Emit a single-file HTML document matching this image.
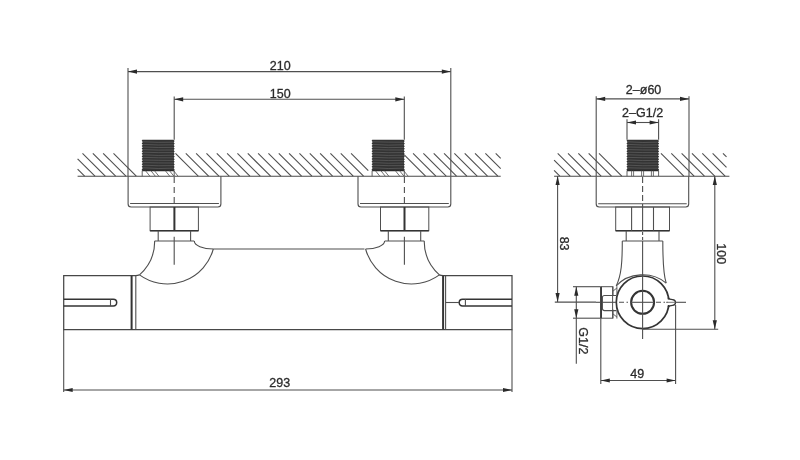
<!DOCTYPE html>
<html><head><meta charset="utf-8"><style>
html,body{margin:0;padding:0;background:#fff;}
svg{display:block;will-change:transform;}
text{font-family:"Liberation Sans",sans-serif;fill:#2b2b2b;stroke:#2b2b2b;stroke-width:0.3px;}
</style></head><body>
<svg width="800" height="460" viewBox="0 0 800 460">
<rect width="800" height="460" fill="#fff"/>
<line x1="77.60" y1="169.16" x2="84.64" y2="176.20" stroke="#4f4f4f" stroke-width="1.1" />
<line x1="77.60" y1="158.83" x2="94.97" y2="176.20" stroke="#4f4f4f" stroke-width="1.1" />
<line x1="82.50" y1="153.40" x2="105.30" y2="176.20" stroke="#4f4f4f" stroke-width="1.1" />
<line x1="92.83" y1="153.40" x2="115.63" y2="176.20" stroke="#4f4f4f" stroke-width="1.1" />
<line x1="103.16" y1="153.40" x2="125.96" y2="176.20" stroke="#4f4f4f" stroke-width="1.1" />
<line x1="113.49" y1="153.40" x2="136.29" y2="176.20" stroke="#4f4f4f" stroke-width="1.1" />
<line x1="175.47" y1="153.40" x2="198.27" y2="176.20" stroke="#4f4f4f" stroke-width="1.1" />
<line x1="185.80" y1="153.40" x2="208.60" y2="176.20" stroke="#4f4f4f" stroke-width="1.1" />
<line x1="196.13" y1="153.40" x2="218.93" y2="176.20" stroke="#4f4f4f" stroke-width="1.1" />
<line x1="206.46" y1="153.40" x2="229.26" y2="176.20" stroke="#4f4f4f" stroke-width="1.1" />
<line x1="216.79" y1="153.40" x2="239.59" y2="176.20" stroke="#4f4f4f" stroke-width="1.1" />
<line x1="227.12" y1="153.40" x2="249.92" y2="176.20" stroke="#4f4f4f" stroke-width="1.1" />
<line x1="237.45" y1="153.40" x2="260.25" y2="176.20" stroke="#4f4f4f" stroke-width="1.1" />
<line x1="247.78" y1="153.40" x2="270.58" y2="176.20" stroke="#4f4f4f" stroke-width="1.1" />
<line x1="258.11" y1="153.40" x2="280.91" y2="176.20" stroke="#4f4f4f" stroke-width="1.1" />
<line x1="268.44" y1="153.40" x2="291.24" y2="176.20" stroke="#4f4f4f" stroke-width="1.1" />
<line x1="278.77" y1="153.40" x2="301.57" y2="176.20" stroke="#4f4f4f" stroke-width="1.1" />
<line x1="289.10" y1="153.40" x2="311.90" y2="176.20" stroke="#4f4f4f" stroke-width="1.1" />
<line x1="299.43" y1="153.40" x2="322.23" y2="176.20" stroke="#4f4f4f" stroke-width="1.1" />
<line x1="309.76" y1="153.40" x2="332.56" y2="176.20" stroke="#4f4f4f" stroke-width="1.1" />
<line x1="320.09" y1="153.40" x2="342.89" y2="176.20" stroke="#4f4f4f" stroke-width="1.1" />
<line x1="330.42" y1="153.40" x2="353.22" y2="176.20" stroke="#4f4f4f" stroke-width="1.1" />
<line x1="340.75" y1="153.40" x2="363.55" y2="176.20" stroke="#4f4f4f" stroke-width="1.1" />
<line x1="351.08" y1="153.40" x2="368.28" y2="170.60" stroke="#4f4f4f" stroke-width="1.1" />
<line x1="404.30" y1="154.97" x2="425.53" y2="176.20" stroke="#4f4f4f" stroke-width="1.1" />
<line x1="413.06" y1="153.40" x2="435.86" y2="176.20" stroke="#4f4f4f" stroke-width="1.1" />
<line x1="423.39" y1="153.40" x2="446.19" y2="176.20" stroke="#4f4f4f" stroke-width="1.1" />
<line x1="433.72" y1="153.40" x2="456.52" y2="176.20" stroke="#4f4f4f" stroke-width="1.1" />
<line x1="444.05" y1="153.40" x2="466.85" y2="176.20" stroke="#4f4f4f" stroke-width="1.1" />
<line x1="454.38" y1="153.40" x2="477.18" y2="176.20" stroke="#4f4f4f" stroke-width="1.1" />
<line x1="464.71" y1="153.40" x2="487.51" y2="176.20" stroke="#4f4f4f" stroke-width="1.1" />
<line x1="475.04" y1="153.40" x2="497.84" y2="176.20" stroke="#4f4f4f" stroke-width="1.1" />
<line x1="485.37" y1="153.40" x2="500.70" y2="168.73" stroke="#4f4f4f" stroke-width="1.1" />
<line x1="495.70" y1="153.40" x2="500.70" y2="158.40" stroke="#4f4f4f" stroke-width="1.1" />
<line x1="77.60" y1="176.20" x2="500.70" y2="176.20" stroke="#4a4a4a" stroke-width="1.1" />
<line x1="554.10" y1="170.48" x2="559.82" y2="176.20" stroke="#4f4f4f" stroke-width="1.1" />
<line x1="554.10" y1="160.15" x2="570.15" y2="176.20" stroke="#4f4f4f" stroke-width="1.1" />
<line x1="557.68" y1="153.40" x2="580.48" y2="176.20" stroke="#4f4f4f" stroke-width="1.1" />
<line x1="568.01" y1="153.40" x2="590.81" y2="176.20" stroke="#4f4f4f" stroke-width="1.1" />
<line x1="578.34" y1="153.40" x2="601.14" y2="176.20" stroke="#4f4f4f" stroke-width="1.1" />
<line x1="588.67" y1="153.40" x2="611.47" y2="176.20" stroke="#4f4f4f" stroke-width="1.1" />
<line x1="599.00" y1="153.40" x2="621.80" y2="176.20" stroke="#4f4f4f" stroke-width="1.1" />
<line x1="660.98" y1="153.40" x2="683.78" y2="176.20" stroke="#4f4f4f" stroke-width="1.1" />
<line x1="671.31" y1="153.40" x2="694.11" y2="176.20" stroke="#4f4f4f" stroke-width="1.1" />
<line x1="681.64" y1="153.40" x2="704.44" y2="176.20" stroke="#4f4f4f" stroke-width="1.1" />
<line x1="691.97" y1="153.40" x2="714.77" y2="176.20" stroke="#4f4f4f" stroke-width="1.1" />
<line x1="702.30" y1="153.40" x2="725.10" y2="176.20" stroke="#4f4f4f" stroke-width="1.1" />
<line x1="712.63" y1="153.40" x2="726.50" y2="167.27" stroke="#4f4f4f" stroke-width="1.1" />
<line x1="722.96" y1="153.40" x2="726.50" y2="156.94" stroke="#4f4f4f" stroke-width="1.1" />
<line x1="554.10" y1="176.20" x2="729.40" y2="176.20" stroke="#4a4a4a" stroke-width="1.1" />
<path d="M143.00,139.80 L173.40,139.80 L174.70,141.00 L173.60,142.30 L174.70,143.60 L173.60,144.90 L174.70,146.20 L173.60,147.50 L174.70,148.80 L173.60,150.10 L174.70,151.40 L173.60,152.70 L174.70,154.00 L173.60,155.30 L174.70,156.60 L173.60,157.90 L174.70,159.20 L173.60,160.50 L174.70,161.80 L173.60,163.10 L174.70,164.40 L173.60,165.70 L174.70,167.00 L173.60,168.30 L174.70,169.60 L173.60,170.90 L174.20,170.60 L142.20,170.60 L141.70,169.40 L142.80,168.10 L141.70,166.80 L142.80,165.50 L141.70,164.20 L142.80,162.90 L141.70,161.60 L142.80,160.30 L141.70,159.00 L142.80,157.70 L141.70,156.40 L142.80,155.10 L141.70,153.80 L142.80,152.50 L141.70,151.20 L142.80,149.90 L141.70,148.60 L142.80,147.30 L141.70,146.00 L142.80,144.70 L141.70,143.40 L142.80,142.10 L141.70,140.80 L142.80,139.50Z" fill="#333"/>
<path d="M143.20,141.80 Q158.20,142.68 173.20,142.20" stroke="#616161" stroke-width="0.7" fill="none"/>
<path d="M143.20,144.40 Q158.20,145.38 173.20,144.80" stroke="#616161" stroke-width="0.7" fill="none"/>
<path d="M143.20,147.00 Q158.20,147.79 173.20,147.40" stroke="#616161" stroke-width="0.7" fill="none"/>
<path d="M143.20,149.60 Q158.20,150.39 173.20,150.00" stroke="#616161" stroke-width="0.7" fill="none"/>
<path d="M143.20,152.20 Q158.20,152.85 173.20,152.60" stroke="#616161" stroke-width="0.7" fill="none"/>
<path d="M143.20,154.80 Q158.20,155.93 173.20,155.20" stroke="#616161" stroke-width="0.7" fill="none"/>
<path d="M143.20,157.40 Q158.20,157.96 173.20,157.80" stroke="#616161" stroke-width="0.7" fill="none"/>
<path d="M143.20,160.00 Q158.20,160.40 173.20,160.40" stroke="#616161" stroke-width="0.7" fill="none"/>
<path d="M143.20,162.60 Q158.20,163.07 173.20,163.00" stroke="#616161" stroke-width="0.7" fill="none"/>
<path d="M143.20,165.20 Q158.20,166.06 173.20,165.60" stroke="#616161" stroke-width="0.7" fill="none"/>
<path d="M143.20,167.80 Q158.20,168.97 173.20,168.20" stroke="#616161" stroke-width="0.7" fill="none"/>
<line x1="142.20" y1="170.60" x2="174.20" y2="170.60" stroke="#2a2a2a" stroke-width="1.3" />
<line x1="142.20" y1="170.60" x2="142.20" y2="176.20" stroke="#4f4f4f" stroke-width="0.9" />
<line x1="174.20" y1="170.60" x2="174.20" y2="176.20" stroke="#4f4f4f" stroke-width="0.9" />
<line x1="145.40" y1="170.60" x2="149.90" y2="176.20" stroke="#4f4f4f" stroke-width="0.8" />
<line x1="150.84" y1="170.60" x2="155.34" y2="176.20" stroke="#4f4f4f" stroke-width="0.8" />
<line x1="154.36" y1="170.60" x2="158.86" y2="176.20" stroke="#4f4f4f" stroke-width="0.8" />
<line x1="165.24" y1="170.60" x2="169.74" y2="176.20" stroke="#4f4f4f" stroke-width="0.8" />
<line x1="169.40" y1="170.60" x2="173.90" y2="176.20" stroke="#4f4f4f" stroke-width="0.8" />
<line x1="173.56" y1="170.60" x2="178.06" y2="176.20" stroke="#4f4f4f" stroke-width="0.8" />
<path d="M372.90,139.80 L403.50,139.80 L404.80,141.00 L403.70,142.30 L404.80,143.60 L403.70,144.90 L404.80,146.20 L403.70,147.50 L404.80,148.80 L403.70,150.10 L404.80,151.40 L403.70,152.70 L404.80,154.00 L403.70,155.30 L404.80,156.60 L403.70,157.90 L404.80,159.20 L403.70,160.50 L404.80,161.80 L403.70,163.10 L404.80,164.40 L403.70,165.70 L404.80,167.00 L403.70,168.30 L404.80,169.60 L403.70,170.90 L404.30,170.60 L372.10,170.60 L371.60,169.40 L372.70,168.10 L371.60,166.80 L372.70,165.50 L371.60,164.20 L372.70,162.90 L371.60,161.60 L372.70,160.30 L371.60,159.00 L372.70,157.70 L371.60,156.40 L372.70,155.10 L371.60,153.80 L372.70,152.50 L371.60,151.20 L372.70,149.90 L371.60,148.60 L372.70,147.30 L371.60,146.00 L372.70,144.70 L371.60,143.40 L372.70,142.10 L371.60,140.80 L372.70,139.50Z" fill="#333"/>
<path d="M373.10,141.80 Q388.20,142.22 403.30,142.20" stroke="#616161" stroke-width="0.7" fill="none"/>
<path d="M373.10,144.40 Q388.20,145.68 403.30,144.80" stroke="#616161" stroke-width="0.7" fill="none"/>
<path d="M373.10,147.00 Q388.20,148.05 403.30,147.40" stroke="#616161" stroke-width="0.7" fill="none"/>
<path d="M373.10,149.60 Q388.20,150.14 403.30,150.00" stroke="#616161" stroke-width="0.7" fill="none"/>
<path d="M373.10,152.20 Q388.20,153.03 403.30,152.60" stroke="#616161" stroke-width="0.7" fill="none"/>
<path d="M373.10,154.80 Q388.20,155.81 403.30,155.20" stroke="#616161" stroke-width="0.7" fill="none"/>
<path d="M373.10,157.40 Q388.20,158.16 403.30,157.80" stroke="#616161" stroke-width="0.7" fill="none"/>
<path d="M373.10,160.00 Q388.20,160.90 403.30,160.40" stroke="#616161" stroke-width="0.7" fill="none"/>
<path d="M373.10,162.60 Q388.20,163.65 403.30,163.00" stroke="#616161" stroke-width="0.7" fill="none"/>
<path d="M373.10,165.20 Q388.20,165.93 403.30,165.60" stroke="#616161" stroke-width="0.7" fill="none"/>
<path d="M373.10,167.80 Q388.20,169.04 403.30,168.20" stroke="#616161" stroke-width="0.7" fill="none"/>
<line x1="372.10" y1="170.60" x2="404.30" y2="170.60" stroke="#2a2a2a" stroke-width="1.3" />
<line x1="372.10" y1="170.60" x2="372.10" y2="176.20" stroke="#4f4f4f" stroke-width="0.9" />
<line x1="404.30" y1="170.60" x2="404.30" y2="176.20" stroke="#4f4f4f" stroke-width="0.9" />
<line x1="375.32" y1="170.60" x2="379.82" y2="176.20" stroke="#4f4f4f" stroke-width="0.8" />
<line x1="380.79" y1="170.60" x2="385.29" y2="176.20" stroke="#4f4f4f" stroke-width="0.8" />
<line x1="384.34" y1="170.60" x2="388.84" y2="176.20" stroke="#4f4f4f" stroke-width="0.8" />
<line x1="395.28" y1="170.60" x2="399.78" y2="176.20" stroke="#4f4f4f" stroke-width="0.8" />
<line x1="399.47" y1="170.60" x2="403.97" y2="176.20" stroke="#4f4f4f" stroke-width="0.8" />
<line x1="403.66" y1="170.60" x2="408.16" y2="176.20" stroke="#4f4f4f" stroke-width="0.8" />
<path d="M627.80,139.80 L657.80,139.80 L659.10,141.00 L658.00,142.30 L659.10,143.60 L658.00,144.90 L659.10,146.20 L658.00,147.50 L659.10,148.80 L658.00,150.10 L659.10,151.40 L658.00,152.70 L659.10,154.00 L658.00,155.30 L659.10,156.60 L658.00,157.90 L659.10,159.20 L658.00,160.50 L659.10,161.80 L658.00,163.10 L659.10,164.40 L658.00,165.70 L659.10,167.00 L658.00,168.30 L659.10,169.60 L658.00,170.90 L658.60,170.60 L627.00,170.60 L626.50,169.40 L627.60,168.10 L626.50,166.80 L627.60,165.50 L626.50,164.20 L627.60,162.90 L626.50,161.60 L627.60,160.30 L626.50,159.00 L627.60,157.70 L626.50,156.40 L627.60,155.10 L626.50,153.80 L627.60,152.50 L626.50,151.20 L627.60,149.90 L626.50,148.60 L627.60,147.30 L626.50,146.00 L627.60,144.70 L626.50,143.40 L627.60,142.10 L626.50,140.80 L627.60,139.50Z" fill="#333"/>
<path d="M628.00,141.80 Q642.80,143.03 657.60,142.20" stroke="#616161" stroke-width="0.7" fill="none"/>
<path d="M628.00,144.40 Q642.80,145.43 657.60,144.80" stroke="#616161" stroke-width="0.7" fill="none"/>
<path d="M628.00,147.00 Q642.80,147.41 657.60,147.40" stroke="#616161" stroke-width="0.7" fill="none"/>
<path d="M628.00,149.60 Q642.80,150.13 657.60,150.00" stroke="#616161" stroke-width="0.7" fill="none"/>
<path d="M628.00,152.20 Q642.80,152.75 657.60,152.60" stroke="#616161" stroke-width="0.7" fill="none"/>
<path d="M628.00,154.80 Q642.80,155.52 657.60,155.20" stroke="#616161" stroke-width="0.7" fill="none"/>
<path d="M628.00,157.40 Q642.80,157.86 657.60,157.80" stroke="#616161" stroke-width="0.7" fill="none"/>
<path d="M628.00,160.00 Q642.80,160.95 657.60,160.40" stroke="#616161" stroke-width="0.7" fill="none"/>
<path d="M628.00,162.60 Q642.80,163.43 657.60,163.00" stroke="#616161" stroke-width="0.7" fill="none"/>
<path d="M628.00,165.20 Q642.80,166.06 657.60,165.60" stroke="#616161" stroke-width="0.7" fill="none"/>
<path d="M628.00,167.80 Q642.80,168.29 657.60,168.20" stroke="#616161" stroke-width="0.7" fill="none"/>
<line x1="627.00" y1="170.60" x2="658.60" y2="170.60" stroke="#2a2a2a" stroke-width="1.3" />
<line x1="627.00" y1="170.60" x2="627.00" y2="176.20" stroke="#4f4f4f" stroke-width="0.9" />
<line x1="658.60" y1="170.60" x2="658.60" y2="176.20" stroke="#4f4f4f" stroke-width="0.9" />
<line x1="631.60" y1="170.60" x2="631.60" y2="176.20" stroke="#4f4f4f" stroke-width="0.8" />
<line x1="633.60" y1="170.60" x2="633.60" y2="176.20" stroke="#4f4f4f" stroke-width="0.8" />
<line x1="641.60" y1="170.60" x2="641.60" y2="176.20" stroke="#4f4f4f" stroke-width="0.8" />
<line x1="643.60" y1="170.60" x2="643.60" y2="176.20" stroke="#4f4f4f" stroke-width="0.8" />
<line x1="651.40" y1="170.60" x2="651.40" y2="176.20" stroke="#4f4f4f" stroke-width="0.8" />
<line x1="653.40" y1="170.60" x2="653.40" y2="176.20" stroke="#4f4f4f" stroke-width="0.8" />
<line x1="128.00" y1="68.00" x2="128.00" y2="176.00" stroke="#4f4f4f" stroke-width="1.1" />
<line x1="450.80" y1="68.00" x2="450.80" y2="176.00" stroke="#4f4f4f" stroke-width="1.1" />
<line x1="128.00" y1="71.60" x2="450.80" y2="71.60" stroke="#4f4f4f" stroke-width="1.1" />
<path d="M128.00,71.60 L137.00,69.50 L137.00,73.70 Z" fill="#2a2a2a"/>
<path d="M450.80,71.60 L441.80,73.70 L441.80,69.50 Z" fill="#2a2a2a"/>
<text x="280.2" y="69.6" font-size="12.5" text-anchor="middle">210</text>
<line x1="174.20" y1="96.50" x2="174.20" y2="139.80" stroke="#4f4f4f" stroke-width="1.1" />
<line x1="404.30" y1="96.50" x2="404.30" y2="139.80" stroke="#4f4f4f" stroke-width="1.1" />
<line x1="174.20" y1="99.30" x2="404.30" y2="99.30" stroke="#4f4f4f" stroke-width="1.1" />
<path d="M174.20,99.30 L183.20,97.20 L183.20,101.40 Z" fill="#2a2a2a"/>
<path d="M404.30,99.30 L395.30,101.40 L395.30,97.20 Z" fill="#2a2a2a"/>
<text x="280.2" y="97.6" font-size="12.5" text-anchor="middle">150</text>
<line x1="63.70" y1="329.50" x2="63.70" y2="392.00" stroke="#4f4f4f" stroke-width="1.1" />
<line x1="512.00" y1="329.50" x2="512.00" y2="392.00" stroke="#4f4f4f" stroke-width="1.1" />
<line x1="63.70" y1="390.00" x2="512.00" y2="390.00" stroke="#4f4f4f" stroke-width="1.1" />
<path d="M63.70,390.00 L72.70,387.90 L72.70,392.10 Z" fill="#2a2a2a"/>
<path d="M512.00,390.00 L503.00,392.10 L503.00,387.90 Z" fill="#2a2a2a"/>
<text x="279.8" y="387" font-size="12.5" text-anchor="middle">293</text>
<path d="M128.10000000000002,176.2 L128.10000000000002,204 Q128.10000000000002,207 131.10000000000002,207 L217.9,207 Q220.9,207 220.9,204 L220.9,176.2" stroke="#4f4f4f" stroke-width="1.1" fill="none" />
<line x1="130.10" y1="203.50" x2="218.90" y2="203.50" stroke="#4f4f4f" stroke-width="1.1" />
<rect x="150.10" y="207" width="48.30" height="23.7" fill="none" stroke="#4f4f4f" stroke-width="1"/>
<line x1="150.10" y1="230.70" x2="198.40" y2="230.70" stroke="#343434" stroke-width="1.6" />
<line x1="174.40" y1="207.00" x2="174.40" y2="230.70" stroke="#343434" stroke-width="2" />
<line x1="158.20" y1="230.70" x2="158.20" y2="241.00" stroke="#4f4f4f" stroke-width="1.1" />
<line x1="190.60" y1="230.70" x2="190.60" y2="241.00" stroke="#4f4f4f" stroke-width="1.1" />
<line x1="154.60" y1="241.00" x2="194.20" y2="241.00" stroke="#4f4f4f" stroke-width="1.1" />
<path d="M358.0,176.2 L358.0,204 Q358.0,207 361.0,207 L447.8,207 Q450.8,207 450.8,204 L450.8,176.2" stroke="#4f4f4f" stroke-width="1.1" fill="none" />
<line x1="360.00" y1="203.50" x2="448.80" y2="203.50" stroke="#4f4f4f" stroke-width="1.1" />
<rect x="380.50" y="207" width="48.30" height="23.7" fill="none" stroke="#4f4f4f" stroke-width="1"/>
<line x1="380.50" y1="230.70" x2="428.80" y2="230.70" stroke="#343434" stroke-width="1.6" />
<line x1="404.50" y1="207.00" x2="404.50" y2="230.70" stroke="#343434" stroke-width="2" />
<line x1="388.30" y1="230.70" x2="388.30" y2="241.00" stroke="#4f4f4f" stroke-width="1.1" />
<line x1="420.70" y1="230.70" x2="420.70" y2="241.00" stroke="#4f4f4f" stroke-width="1.1" />
<line x1="384.70" y1="241.00" x2="424.30" y2="241.00" stroke="#4f4f4f" stroke-width="1.1" />
<path d="M154.7,241 A45.4,45.4 0 0 1 139.5,274.9" stroke="#4f4f4f" stroke-width="1.1" fill="none" />
<path d="M139.5,274.9 A47.5,47.5 0 0 0 213.3,249" stroke="#4f4f4f" stroke-width="1.1" fill="none" />
<path d="M194.3,241 A19,8 0 0 0 213.3,249 L364.5,249" stroke="#4f4f4f" stroke-width="1.1" fill="none" />
<path d="M424.20,241 A45.4,45.4 0 0 0 439.40,274.9" stroke="#4f4f4f" stroke-width="1.1" fill="none" />
<path d="M439.40,274.9 A47.5,47.5 0 0 1 365.60,249" stroke="#4f4f4f" stroke-width="1.1" fill="none" />
<path d="M384.60,241 A19,8 0 0 1 365.60,249" stroke="#4f4f4f" stroke-width="1.1" fill="none" />
<line x1="174.20" y1="177.00" x2="174.20" y2="207.00" stroke="#4f4f4f" stroke-width="1.1" stroke-dasharray="6 4"/>
<line x1="174.20" y1="236.80" x2="174.20" y2="264.70" stroke="#4f4f4f" stroke-width="1.1" />
<line x1="404.40" y1="177.00" x2="404.40" y2="207.00" stroke="#4f4f4f" stroke-width="1.1" stroke-dasharray="6 4"/>
<line x1="404.40" y1="236.80" x2="404.40" y2="264.70" stroke="#4f4f4f" stroke-width="1.1" />
<path d="M139.5,274.9 Q137.5,275.6 135.8,275.7 L63.7,275.7 L63.7,329.5 L512,329.5 L512,275.7 L443.1,275.7 Q441,275.6 439.2,274.9" stroke="#474747" stroke-width="1.25" fill="none" />
<line x1="131.60" y1="275.70" x2="131.60" y2="329.50" stroke="#343434" stroke-width="2" />
<line x1="135.80" y1="275.70" x2="135.80" y2="329.50" stroke="#4f4f4f" stroke-width="1.1" />
<line x1="443.10" y1="275.70" x2="443.10" y2="329.50" stroke="#343434" stroke-width="2" />
<line x1="445.60" y1="275.70" x2="445.60" y2="329.50" stroke="#4f4f4f" stroke-width="1.1" />
<path d="M63.7,299.2 L113.3,299.2 A3.4,3.4 0 0 1 113.3,306 L63.7,306" stroke="#343434" stroke-width="1.5" fill="none" />
<line x1="110.50" y1="299.20" x2="110.50" y2="306.00" stroke="#4f4f4f" stroke-width="1.1" />
<path d="M512,299.2 L462.6,299.2 A3.4,3.4 0 0 0 462.6,306 L512,306" stroke="#343434" stroke-width="1.5" fill="none" />
<line x1="465.40" y1="299.20" x2="465.40" y2="306.00" stroke="#4f4f4f" stroke-width="1.1" />
<line x1="445.60" y1="302.50" x2="459.30" y2="302.50" stroke="#4f4f4f" stroke-width="1.1" />
<line x1="596.20" y1="96.20" x2="596.20" y2="176.00" stroke="#4f4f4f" stroke-width="1.1" />
<line x1="689.00" y1="96.20" x2="689.00" y2="176.00" stroke="#4f4f4f" stroke-width="1.1" />
<line x1="596.20" y1="98.90" x2="689.00" y2="98.90" stroke="#4f4f4f" stroke-width="1.1" />
<path d="M596.20,98.90 L605.20,96.80 L605.20,101.00 Z" fill="#2a2a2a"/>
<path d="M689.00,98.90 L680.00,101.00 L680.00,96.80 Z" fill="#2a2a2a"/>
<text x="643.6" y="94" font-size="12.5" text-anchor="middle">2–ø60</text>
<line x1="627.00" y1="119.20" x2="627.00" y2="139.80" stroke="#4f4f4f" stroke-width="1.1" />
<line x1="658.60" y1="119.20" x2="658.60" y2="139.80" stroke="#4f4f4f" stroke-width="1.1" />
<line x1="627.00" y1="122.50" x2="658.60" y2="122.50" stroke="#4f4f4f" stroke-width="1.1" />
<path d="M627.00,122.50 L636.00,120.40 L636.00,124.60 Z" fill="#2a2a2a"/>
<path d="M658.60,122.50 L649.60,124.60 L649.60,120.40 Z" fill="#2a2a2a"/>
<text x="642.6" y="116.8" font-size="12.5" text-anchor="middle">2–G1/2</text>
<path d="M596.2,176.2 L596.2,204 Q596.2,207 599.2,207 L685.7,207 Q688.7,207 688.7,204 L688.7,176.2" stroke="#4f4f4f" stroke-width="1.1" fill="none" />
<line x1="598.20" y1="203.70" x2="686.70" y2="203.70" stroke="#4f4f4f" stroke-width="1.1" />
<rect x="615.7" y="207" width="53.8" height="23.7" fill="none" stroke="#4f4f4f" stroke-width="1"/>
<line x1="615.70" y1="230.70" x2="669.50" y2="230.70" stroke="#343434" stroke-width="1.6" />
<line x1="631.60" y1="207.00" x2="631.60" y2="230.70" stroke="#4f4f4f" stroke-width="1.1" />
<line x1="653.50" y1="207.00" x2="653.50" y2="230.70" stroke="#4f4f4f" stroke-width="1.1" />
<line x1="626.20" y1="230.70" x2="626.20" y2="241.00" stroke="#4f4f4f" stroke-width="1.1" />
<line x1="659.00" y1="230.70" x2="659.00" y2="241.00" stroke="#4f4f4f" stroke-width="1.1" />
<line x1="622.30" y1="241.00" x2="662.80" y2="241.00" stroke="#4f4f4f" stroke-width="1.1" />
<path d="M622.3,241 C622.3,262 621.5,275 616.2,286" stroke="#4f4f4f" stroke-width="1.1" fill="none" />
<path d="M662.8,241 C662.8,262 663.5,275 666.2,283.2" stroke="#4f4f4f" stroke-width="1.1" fill="none" />
<circle cx="642.6" cy="302.3" r="26.3" fill="none" stroke="#343434" stroke-width="1.7"/>
<path d="M616.2,286 A33,28 0 0 1 666.2,283.2" stroke="#4f4f4f" stroke-width="1.1" fill="none" />
<circle cx="642.6" cy="302.3" r="11.5" fill="none" stroke="#343434" stroke-width="2"/>
<rect x="666.8" y="299.6" width="5" height="5.4" fill="#fff"/>
<path d="M667.8,297.6 Q669.5,299.6 672.5,299.7 Q675.5,300 675.5,302.5 Q675.5,305.3 672.5,305.3 Q669.5,305.4 667.8,307.2" stroke="#343434" stroke-width="1.3" fill="none" />
<line x1="666.00" y1="302.30" x2="675.50" y2="302.30" stroke="#777" stroke-width="1" />
<line x1="642.60" y1="177.00" x2="642.60" y2="207.00" stroke="#4f4f4f" stroke-width="1.1" stroke-dasharray="6 3"/>
<line x1="642.60" y1="207.00" x2="642.60" y2="230.70" stroke="#4f4f4f" stroke-width="1.1" />
<line x1="642.60" y1="232.00" x2="642.60" y2="241.00" stroke="#4f4f4f" stroke-width="1.1" stroke-dasharray="3 2"/>
<line x1="642.60" y1="241.00" x2="642.60" y2="339.00" stroke="#4f4f4f" stroke-width="1.1" />
<line x1="596.00" y1="302.30" x2="616.00" y2="302.30" stroke="#4f4f4f" stroke-width="1.1" />
<line x1="619.00" y1="302.30" x2="631.00" y2="302.30" stroke="#4f4f4f" stroke-width="1.1" stroke-dasharray="5 2.5 1.5 2.5"/>
<line x1="631.00" y1="302.30" x2="654.00" y2="302.30" stroke="#4f4f4f" stroke-width="1.1" />
<line x1="656.00" y1="302.30" x2="668.00" y2="302.30" stroke="#4f4f4f" stroke-width="1.1" stroke-dasharray="5 2.5 1.5 2.5"/>
<line x1="675.50" y1="302.30" x2="686.00" y2="302.30" stroke="#4f4f4f" stroke-width="1.1" />
<line x1="600.80" y1="286.70" x2="600.80" y2="384.00" stroke="#4f4f4f" stroke-width="1.1" />
<rect x="600" y="286.7" width="2" height="31.5" fill="#343434"/>
<rect x="600.8" y="286.7" width="11.8" height="31.5" fill="none" stroke="#4f4f4f" stroke-width="1"/>
<path d="M616.2,295.5 L604.5,295.5 Q602.4,295.5 602.4,297.5 L602.4,308.6 Q602.4,310.6 604.5,310.6 L616.2,310.6" stroke="#4f4f4f" stroke-width="1.1" fill="none" />
<path d="M613.1,286.4 L613.1,295.4 M616.9,286.2 L616.9,295.4 M613.1,309.6 L613.1,318.4 M616.9,309.6 L616.9,318.6 M613.1,291 L616.9,288 M613.1,314 L616.9,317" stroke="#4f4f4f" stroke-width="0.9" fill="none" />
<line x1="554.80" y1="302.10" x2="596.00" y2="302.10" stroke="#4f4f4f" stroke-width="1.1" />
<line x1="557.60" y1="176.00" x2="557.60" y2="302.10" stroke="#4f4f4f" stroke-width="1.1" />
<path d="M557.60,176.00 L559.70,185.00 L555.50,185.00 Z" fill="#2a2a2a"/>
<path d="M557.60,302.10 L555.50,293.10 L559.70,293.10 Z" fill="#2a2a2a"/>
<text x="560.4" y="243.6" font-size="12.5" text-anchor="middle" transform="rotate(90 560.4 243.6)">83</text>
<line x1="642.60" y1="329.30" x2="718.20" y2="329.30" stroke="#4f4f4f" stroke-width="1.1" />
<line x1="714.80" y1="176.00" x2="714.80" y2="329.30" stroke="#4f4f4f" stroke-width="1.1" />
<path d="M714.80,176.00 L716.90,185.00 L712.70,185.00 Z" fill="#2a2a2a"/>
<path d="M714.80,329.30 L712.70,320.30 L716.90,320.30 Z" fill="#2a2a2a"/>
<text x="716.9" y="253.7" font-size="12.5" text-anchor="middle" transform="rotate(90 716.9 253.7)">100</text>
<line x1="573.00" y1="286.70" x2="600.00" y2="286.70" stroke="#4f4f4f" stroke-width="1.1" />
<line x1="573.00" y1="318.20" x2="600.00" y2="318.20" stroke="#4f4f4f" stroke-width="1.1" />
<line x1="576.30" y1="286.70" x2="576.30" y2="363.80" stroke="#4f4f4f" stroke-width="1.1" />
<path d="M576.30,286.70 L578.40,295.70 L574.20,295.70 Z" fill="#2a2a2a"/>
<path d="M576.30,318.20 L574.20,309.20 L578.40,309.20 Z" fill="#2a2a2a"/>
<text x="578.8" y="340.8" font-size="12.5" text-anchor="middle" transform="rotate(90 578.8 340.8)">G1/2</text>
<line x1="675.60" y1="305.00" x2="675.60" y2="384.00" stroke="#4f4f4f" stroke-width="1.1" />
<line x1="600.80" y1="380.50" x2="675.60" y2="380.50" stroke="#4f4f4f" stroke-width="1.1" />
<path d="M600.80,380.50 L609.80,378.40 L609.80,382.60 Z" fill="#2a2a2a"/>
<path d="M675.60,380.50 L666.60,382.60 L666.60,378.40 Z" fill="#2a2a2a"/>
<text x="637.3" y="377.5" font-size="12.5" text-anchor="middle">49</text>
</svg>
</body></html>
